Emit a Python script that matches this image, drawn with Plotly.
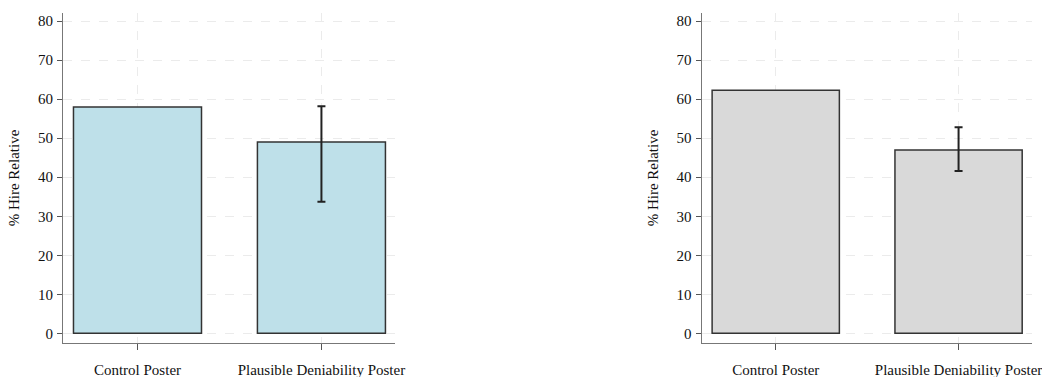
import plotly.graph_objects as go

categories = ["Control Poster", "Plausible Deniability Poster"]
left_values = [58.0, 49.0]
left_err_plus = [9.2]
left_err_minus = [15.3]
right_values = [62.3, 47.0]
right_err_plus = [5.8]
right_err_minus = [5.4]
y_ticks = [0, 10, 20, 30, 40, 50, 60, 70, 80]

W, H = 1042, 377
fig = go.Figure()

panels = [
    (left_values, left_err_plus, left_err_minus, "#BEE0E9", "x", "y"),
    (right_values, right_err_plus, right_err_minus, "#D9D9D9", "x2", "y2"),
]
for vals, ep, em, col, xa, ya in panels:
    fig.add_trace(go.Bar(
        x=[0], y=vals[:1], width=0.696, xaxis=xa, yaxis=ya,
        marker=dict(color=col, line=dict(color="#333333", width=1.5)),
        showlegend=False, hoverinfo="skip",
    ))
    fig.add_trace(go.Bar(
        x=[1], y=vals[1:], width=0.696, xaxis=xa, yaxis=ya,
        marker=dict(color=col, line=dict(color="#333333", width=1.5)),
        error_y=dict(type="data", array=ep, arrayminus=em, symmetric=False,
                     color="#222222", thickness=2, width=4),
        showlegend=False, hoverinfo="skip",
    ))

font = dict(family="Liberation Serif, Times New Roman, serif", size=15, color="#111111")

def xaxis(domain, anchor):
    return dict(domain=domain, anchor=anchor, range=[-0.405, 1.40],
                tickmode="array", tickvals=[0, 1], ticktext=categories,
                showline=True, linecolor="#777777", linewidth=1.2,
                ticks="outside", ticklen=6, tickcolor="#555555", tickwidth=1.2,
                showgrid=True, gridcolor="#EBEBEB", griddash="dash", gridwidth=1,
                zeroline=False, tickfont=font, ticklabelstandoff=7,
                ticklabeloverflow="allow",
                automargin=False, fixedrange=True)

def yaxis(domain, anchor):
    return dict(domain=domain, anchor=anchor, range=[-2.4, 82],
                tickmode="array", tickvals=y_ticks,
                showline=True, linecolor="#777777", linewidth=1.2,
                ticks="outside", ticklen=5, tickcolor="#555555", tickwidth=1.2,
                showgrid=True, gridcolor="#EBEBEB", griddash="dash", gridwidth=1,
                zeroline=False, tickfont=font, ticklabelstandoff=1,
                ticklabeloverflow="allow",
                title=dict(text="% Hire Relative", font=font, standoff=14),
                automargin=False, fixedrange=True)

ydom = [1 - 342.7 / H, 1 - 13.3 / H]
fig.update_layout(
    width=W, height=H,
    margin=dict(l=0, r=0, t=0, b=0),
    paper_bgcolor="white", plot_bgcolor="white",
    barmode="overlay",
    xaxis=xaxis([63 / W, 395 / W], "y"),
    yaxis=yaxis(ydom, "x"),
    xaxis2=xaxis([701.7 / W, 1031.7 / W], "y2"),
    yaxis2=yaxis(ydom, "x2"),
    font=font,
)

fig.write_html("out.html")
